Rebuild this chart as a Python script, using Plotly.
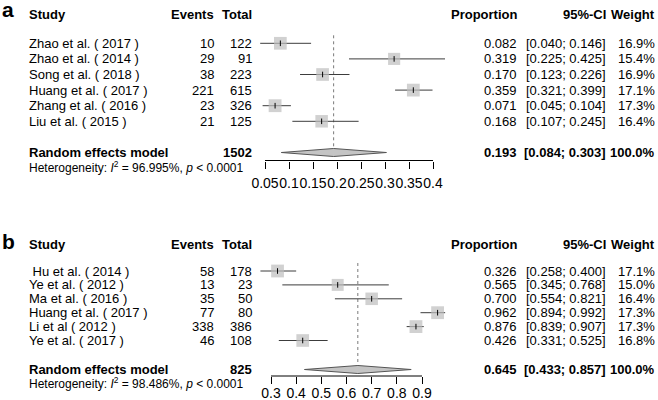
import plotly.graph_objects as go

W, H = 658, 400
FONT = "Liberation Sans, Arial, sans-serif"

# ---------------- Panel a data ----------------
a_study = ["Zhao et al. ( 2017 )", "Zhao et al. ( 2014 )", "Song et al. ( 2018 )",
           "Huang et al. ( 2017 )", "Zhang et al. ( 2016 )", "Liu et al. ( 2015 )"]
a_events = [10, 29, 38, 221, 23, 21]
a_total = [122, 91, 223, 615, 326, 125]
a_prop = [0.082, 0.319, 0.170, 0.359, 0.071, 0.168]
a_lo = [0.040, 0.225, 0.123, 0.321, 0.045, 0.107]
a_hi = [0.146, 0.425, 0.226, 0.399, 0.104, 0.245]
a_weight = [16.9, 15.4, 16.9, 17.1, 17.3, 16.4]
a_pooled = [0.193, 0.084, 0.303]
a_sum_total = 1502
a_i2 = "96.995%"
a_ticks = [0.05, 0.1, 0.15, 0.2, 0.25, 0.3, 0.35, 0.4]
a_ticktext = ["0.05", "0.1", "0.15", "0.2", "0.25", "0.3", "0.35", "0.4"]

# ---------------- Panel b data ----------------
b_study = ["\u00a0Hu et al. ( 2014 )", "Ye et al. ( 2012 )", "Ma et al. ( 2016 )",
           "Huang et al. ( 2017 )", "Li et al ( 2012 )", "Ye et al. ( 2017 )"]
b_events = [58, 13, 35, 77, 338, 46]
b_total = [178, 23, 50, 80, 386, 108]
b_prop = [0.326, 0.565, 0.700, 0.962, 0.876, 0.426]
b_lo = [0.258, 0.345, 0.554, 0.894, 0.839, 0.331]
b_hi = [0.400, 0.768, 0.821, 0.992, 0.907, 0.525]
b_weight = [17.1, 15.0, 16.4, 17.3, 17.3, 16.8]
b_pooled = [0.645, 0.433, 0.857]
b_sum_total = 825
b_i2 = "98.486%"
b_ticks = [0.3, 0.4, 0.5, 0.6, 0.7, 0.8, 0.9]
b_ticktext = ["0.3", "0.4", "0.5", "0.6", "0.7", "0.8", "0.9"]

fig = go.Figure()


def ann(x_px, y, text, anchor, size=13, bold=False):
    fig.add_annotation(x=x_px / W, xref="paper", y=y, yref="y",
                       text=f"<b>{text}</b>" if bold else text,
                       xanchor=anchor, yanchor="middle", showarrow=False,
                       font=dict(family=FONT, size=size, color="black"))


def panel(xa, letter, letter_y, head_y, row0, step, rand_y, het_y, axis_y,
          study, events, total, prop, lo, hi, weight, pooled, sum_total, i2,
          ticks):
    rows = [row0 + i * step for i in range(len(study))]
    # header
    ann(0, letter_y, letter, "left", size=21, bold=True)
    ann(27, head_y, "Study", "left", bold=True)
    ann(216, head_y, "Events", "right", bold=True)
    ann(254, head_y, "Total", "right", bold=True)
    ann(518.5, head_y, "Proportion", "right", bold=True)
    ann(608, head_y, "95%-CI", "right", bold=True)
    ann(657, head_y, "Weight", "right", bold=True)
    for i, y in enumerate(rows):
        ann(27, y, study[i], "left")
        ann(215.5, y, str(events[i]), "right")
        ann(253.5, y, str(total[i]), "right")
        ann(518.5, y, f"{prop[i]:.3f}", "right")
        ann(607.5, y, f"[{lo[i]:.3f}; {hi[i]:.3f}]", "right")
        ann(657, y, f"{weight[i]:.1f}%", "right")
    ann(27, rand_y, "Random effects model", "left", bold=True)
    ann(253.5, rand_y, str(sum_total), "right", bold=True)
    ann(518.5, rand_y, f"{pooled[0]:.3f}", "right", bold=True)
    ann(607.5, rand_y, f"[{pooled[1]:.3f}; {pooled[2]:.3f}]", "right", bold=True)
    ann(657, rand_y, "100.0%", "right", bold=True)
    ann(27, het_y, f"Heterogeneity: <i>I</i><sup>2</sup> = {i2}, <i>p</i> &lt; 0.0001",
        "left", size=12)

    # dotted pooled line
    fig.add_trace(go.Scatter(x=[pooled[0], pooled[0]], y=[row0 - 8, rand_y],
                             mode="lines", xaxis=xa, yaxis="y",
                             line=dict(color="#7a7a7a", width=1, dash="dot"),
                             hoverinfo="skip"))
    # CI lines
    cx, cy = [], []
    for i, y in enumerate(rows):
        cx += [lo[i], hi[i], None]
        cy += [y, y, None]
    fig.add_trace(go.Scatter(x=cx, y=cy, mode="lines", xaxis=xa, yaxis="y",
                             line=dict(color="#3c3c3c", width=1), hoverinfo="skip"))
    # weighted squares
    fig.add_trace(go.Scatter(x=prop, y=rows, mode="markers", xaxis=xa, yaxis="y",
                             marker=dict(symbol="square", color="#bdbdbd",
                                         size=[12.7 * (w / 16.9) ** 0.5 for w in weight],
                                         line=dict(width=0)),
                             hoverinfo="skip"))
    # point estimate ticks
    fig.add_trace(go.Scatter(x=prop, y=rows, mode="markers", xaxis=xa, yaxis="y",
                             marker=dict(symbol="line-ns", size=4,
                                         line=dict(width=1, color="black")),
                             hoverinfo="skip"))
    # diamond
    fig.add_trace(go.Scatter(x=[pooled[1], pooled[0], pooled[2], pooled[0], pooled[1]],
                             y=[rand_y, rand_y - 4, rand_y, rand_y + 4, rand_y],
                             mode="lines", fill="toself", fillcolor="#c4c4c4",
                             xaxis=xa, yaxis="y",
                             line=dict(color="#555555", width=1), hoverinfo="skip"))
    # axis baseline
    fig.add_trace(go.Scatter(x=[ticks[0], ticks[-1]], y=[axis_y, axis_y], mode="lines",
                             xaxis=xa, yaxis="y", line=dict(color="black", width=1),
                             hoverinfo="skip"))


A_AXIS_Y = 160.5
B_AXIS_Y = 376.0

panel("x", "a", 9, 14, 43.3, 15.6, 152.5, 166.7, A_AXIS_Y,
      a_study, a_events, a_total, a_prop, a_lo, a_hi, a_weight, a_pooled,
      a_sum_total, a_i2, a_ticks)
panel("x2", "b", 241, 244, 271, 13.9, 369.5, 382.7, B_AXIS_Y,
      b_study, b_events, b_total, b_prop, b_lo, b_hi, b_weight, b_pooled,
      b_sum_total, b_i2, b_ticks)


# axis scales: panel a 0.05->265px, 0.4->433px ; panel b 0.3->271px, 0.9->422px
def rng(v0, p0, v1, p1):
    s = (v1 - v0) / (p1 - p0)
    return [v0 - p0 * s, v0 + (W - p0) * s]


axis_common = dict(showgrid=False, zeroline=False, showline=False, ticks="outside",
                   ticklen=7, tickwidth=1, tickcolor="black", anchor="free",
                   tickfont=dict(family=FONT, size=14, color="black"),
                   tickangle=0, domain=[0, 1], fixedrange=True)

fig.update_layout(
    width=W, height=H, margin=dict(l=0, r=0, t=0, b=0, autoexpand=False),
    paper_bgcolor="white", plot_bgcolor="white", showlegend=False,
    xaxis=dict(range=rng(0.05, 265, 0.4, 433), tickvals=a_ticks, ticktext=a_ticktext,
               position=1 - A_AXIS_Y / H, ticklabelstandoff=3, **axis_common),
    xaxis2=dict(range=rng(0.3, 271, 0.9, 422), tickvals=b_ticks, ticktext=b_ticktext,
                position=1 - B_AXIS_Y / H, overlaying="x", ticklabelstandoff=-3,
                **axis_common),
    yaxis=dict(range=[H, 0], domain=[0, 1], visible=False, fixedrange=True),
)

fig.write_html("out.html", config={"displayModeBar": False, "staticPlot": True},
               post_script="document.body.style.margin='0px';")
